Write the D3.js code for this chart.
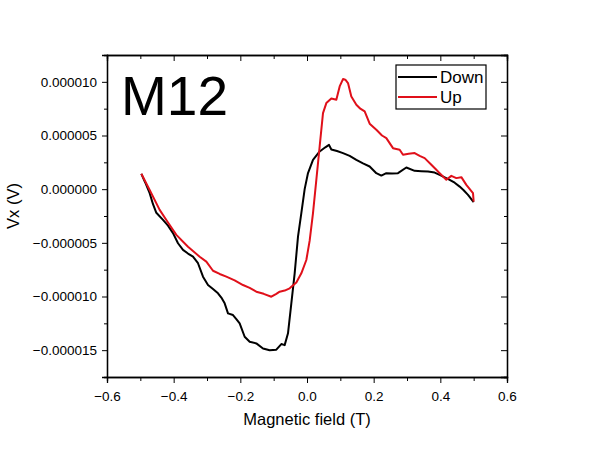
<!DOCTYPE html>
<html>
<head>
<meta charset="utf-8">
<script src="https://cdn.jsdelivr.net/npm/d3@7.9.0/dist/d3.min.js"></script>
<style>
  body { margin: 0; background: #fff; }
  text { font-family: "Liberation Sans", Arial, sans-serif; fill: #000; }
</style>
</head>
<body>
<svg id="chart" width="594" height="456"></svg>
<script>
// field sweep down (T) and Vx (µV)
const downX = [-0.497, -0.485, -0.472, -0.462, -0.452, -0.432, -0.417, -0.402, -0.387, -0.372, -0.357, -0.342,
  -0.327, -0.312, -0.297, -0.282, -0.267, -0.257, -0.247, -0.237, -0.222, -0.212, -0.202, -0.187, -0.172,
  -0.152, -0.132, -0.112, -0.092, -0.077, -0.067, -0.057, -0.047, -0.037, -0.027, -0.017, -0.007, 0.003,
  0.018, 0.038, 0.055, 0.066, 0.073, 0.09, 0.108, 0.128, 0.148, 0.168, 0.188, 0.208, 0.223, 0.238, 0.255,
  0.273, 0.298, 0.323, 0.343, 0.363, 0.383, 0.398, 0.413, 0.428, 0.443, 0.458, 0.47, 0.483, 0.5];
const downY = [1.43, 0.6, -0.37, -1.4, -2.2, -2.86, -3.4, -4.1, -5.04, -5.66, -6.0, -6.29,
  -6.9, -8.15, -8.93, -9.3, -9.7, -10.1, -10.64, -11.57, -11.73, -12.1, -12.5, -13.75, -14.22,
  -14.37, -14.84, -15.0, -14.95, -14.43, -14.53, -13.43, -10.64, -7.84, -4.42, -2.24, 0.0, 1.5,
  2.73, 3.51, 3.9, 4.13, 3.7, 3.55, 3.36, 3.1, 2.73, 2.4, 2.11, 1.49, 1.27, 1.49, 1.45,
  1.49, 2.02, 1.71, 1.68, 1.64, 1.55, 1.33, 1.1, 0.87, 0.6, 0.24, -0.1, -0.53, -1.21];

// field sweep up (T) and Vx (µV)
const upX = [-0.497, -0.472, -0.442, -0.417, -0.392, -0.357, -0.322, -0.302, -0.282, -0.262, -0.242, -0.217,
  -0.192, -0.172, -0.152, -0.13, -0.107, -0.092, -0.082, -0.067, -0.052, -0.032, -0.017, -0.002, 0.008,
  0.018, 0.028, 0.038, 0.048, 0.058, 0.073, 0.088, 0.098, 0.108, 0.115, 0.123, 0.133, 0.148, 0.16, 0.173,
  0.188, 0.208, 0.225, 0.238, 0.258, 0.278, 0.288, 0.305, 0.323, 0.338, 0.353, 0.373, 0.385, 0.398, 0.418,
  0.433, 0.448, 0.463, 0.478, 0.498, 0.5];
const upY = [1.43, -0.07, -1.93, -3.1, -4.26, -5.36, -6.29, -6.75, -7.6, -7.9, -8.15, -8.5,
  -8.93, -9.2, -9.55, -9.75, -10.02, -9.75, -9.55, -9.45, -9.24, -8.7, -7.84, -6.6, -4.8,
  -2.24, 0.87, 3.98, 7.09, 8.02, 8.45, 8.33, 9.57, 10.26, 10.2, 9.89, 8.64, 7.87, 7.5, 7.24,
  6.1, 5.53, 5.0, 4.76, 3.82, 3.67, 3.2, 3.3, 3.36, 3.1, 2.89, 2.27, 1.9, 1.49, 0.87,
  1.24, 1.03, 1.12, 0.4, -0.37, -1.16];

const xTicks = [-0.6, -0.4, -0.2, 0.0, 0.2, 0.4, 0.6];
const yTicks = [-15e-6, -10e-6, -5e-6, 0, 5e-6, 10e-6];
const seriesNames = ["Down", "Up"];
const seriesColors = ["#000000", "#e0101a"];

const margin = { top: 55, right: 87, bottom: 79, left: 107 };
const width = 594, height = 456;
const svg = d3.select("#chart");

const x = d3.scaleLinear().domain([-0.6, 0.6]).range([margin.left, width - margin.right]);
const y = d3.scaleLinear().domain([-17.5e-6, 12.5e-6]).range([height - margin.bottom, margin.top]);

const minorX = d3.range(-0.5, 0.6, 0.2);
const minorY = d3.range(-17.5e-6, 12.5e-6, 5e-6);

// bottom axis: outward ticks
const bottom = svg.append("g").attr("transform", `translate(0,${y.range()[0]})`)
  .call(d3.axisBottom(x).tickValues(xTicks).tickSize(6).tickPadding(5).tickFormat(d3.format(".1f")));
svg.append("g").attr("transform", `translate(0,${y.range()[0]})`)
  .call(d3.axisBottom(x).tickValues(minorX).tickSize(4).tickFormat(""));

// left axis: outward ticks
const left = svg.append("g").attr("transform", `translate(${x.range()[0]},0)`)
  .call(d3.axisLeft(y).tickValues(yTicks).tickSize(5).tickPadding(5).tickFormat(d3.format(".6f")));
svg.append("g").attr("transform", `translate(${x.range()[0]},0)`)
  .call(d3.axisLeft(y).tickValues(minorY).tickSize(3).tickFormat(""));

// top and right: inward ticks, no labels
svg.append("g").attr("transform", `translate(0,${y.range()[1]})`)
  .call(d3.axisTop(x).tickValues(xTicks).tickSize(-6).tickFormat(""));
svg.append("g").attr("transform", `translate(0,${y.range()[1]})`)
  .call(d3.axisTop(x).tickValues(minorX).tickSize(-4).tickFormat(""));
svg.append("g").attr("transform", `translate(${x.range()[1]},0)`)
  .call(d3.axisRight(y).tickValues(yTicks).tickSize(-6).tickFormat(""));
svg.append("g").attr("transform", `translate(${x.range()[1]},0)`)
  .call(d3.axisRight(y).tickValues(minorY).tickSize(-3).tickFormat(""));

svg.selectAll(".domain").attr("stroke", "#000").attr("stroke-width", 1.3);
svg.selectAll(".tick line").attr("stroke", "#000").attr("stroke-width", 1);
svg.selectAll(".tick text")
  .style("font-family", "'Liberation Sans', Arial, sans-serif")
  .style("font-size", "13.5px").attr("fill", "#000");
bottom.selectAll(".tick text").attr("dy", "0.95em");

// curves
const line = d3.line().x(d => x(d[0])).y(d => y(d[1] * 1e-6));
const series = [d3.zip(downX, downY), d3.zip(upX, upY)];
series.forEach((pts, i) => {
  svg.append("path")
    .datum(pts)
    .attr("fill", "none")
    .attr("stroke", seriesColors[i])
    .attr("stroke-width", 2)
    .attr("stroke-linejoin", "round")
    .attr("d", line);
});

// sample label
svg.append("text").attr("x", 121).attr("y", 115)
  .style("font-size", "55px").text("M12");

// legend
const lg = svg.append("g").attr("transform", "translate(396,65)");
lg.append("rect").attr("width", 90).attr("height", 44)
  .attr("fill", "#fff").attr("stroke", "#000").attr("stroke-width", 1.2);
seriesNames.forEach((name, i) => {
  lg.append("line").attr("x1", 2).attr("x2", 41).attr("y1", 12 + i * 20).attr("y2", 12 + i * 20)
    .attr("stroke", seriesColors[i]).attr("stroke-width", 2);
  lg.append("text").attr("x", 44).attr("y", 17.5 + i * 20)
    .style("font-size", "17px").text(name);
});

// axis titles
svg.append("text").attr("x", 307).attr("y", 425).attr("text-anchor", "middle")
  .style("font-size", "16.5px").text("Magnetic field (T)");
svg.append("text").attr("transform", "translate(19,206) rotate(-90)").attr("text-anchor", "middle")
  .style("font-size", "16.5px").text("Vx (V)");
</script>
</body>
</html>
